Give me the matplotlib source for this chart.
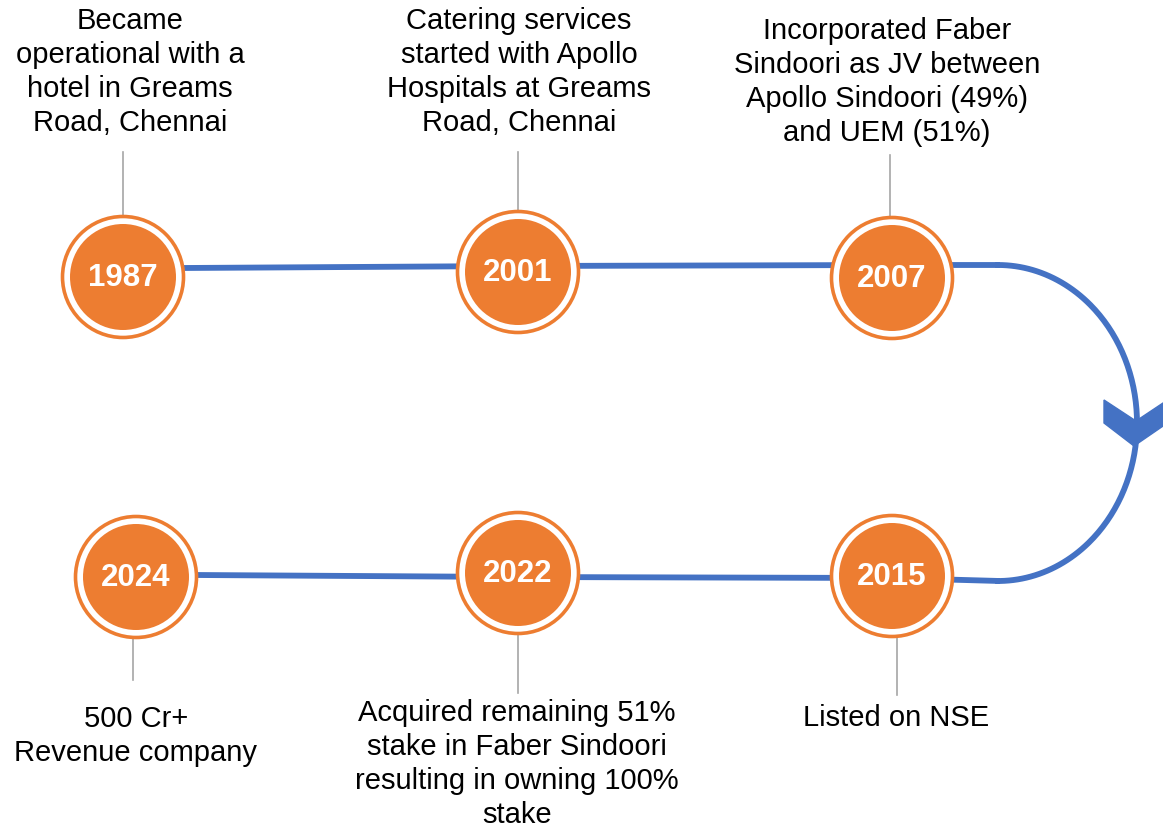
import matplotlib
matplotlib.use("Agg")
import matplotlib.pyplot as plt
from matplotlib.patches import Circle, Polygon
import numpy as np

# ---- data ----
years = ["1987", "2001", "2007", "2015", "2022", "2024"]
events = [
    "Became\noperational with a\nhotel in Greams\nRoad, Chennai",
    "Catering services\nstarted with Apollo\nHospitals at Greams\nRoad, Chennai",
    "Incorporated Faber\nSindoori as JV between\nApollo Sindoori (49%)\nand UEM (51%)",
    "Listed on NSE",
    "Acquired remaining 51%\nstake in Faber Sindoori\nresulting in owning 100%\nstake",
    "500 Cr+\nRevenue company",
]

# ---- layout (pixel space) ----
W, H = 1163, 831
centers = [(123, 277), (518, 272), (892, 278), (892, 576), (518, 573), (136, 577)]
text_pos = [(130, 72), (519, 72), (887, 82), (896, 718), (517, 764), (136, 736)]
conn = [((123, 152), (123, 217)), ((518, 152), (518, 212)), ((890, 155), (890, 216)),
        ((897, 637), (897, 695)), ((518, 635), (518, 693)), ((133, 638), (133, 680))]

ORANGE = "#ED7D31"
BLUE = "#4472C4"
GRAY = "#A6A6A6"

fig = plt.figure(figsize=(W / 100, H / 100), dpi=100)
ax = fig.add_axes([0, 0, 1, 1])
ax.set_xlim(0, W)
ax.set_ylim(H, 0)
ax.set_aspect("equal")
ax.axis("off")

# blue path
lw = 4.2
ax.plot([183, 518, 892, 1000], [268, 266, 265, 265], color=BLUE, lw=lw, solid_capstyle="butt", zorder=1)
ax.plot([196, 518, 892, 1000], [575, 577, 578, 581], color=BLUE, lw=lw, solid_capstyle="butt", zorder=1)
t = np.linspace(-np.pi / 2, np.pi / 2, 200)
cx, cy, rx, ry = 998, 423, 139, 158
ax.plot(cx + rx * np.cos(t), cy + ry * np.sin(t), color=BLUE, lw=lw, zorder=1)
chev = Polygon([(1104, 400), (1104, 423), (1134, 446), (1166, 424), (1166, 401), (1136, 421)],
               closed=True, color=BLUE, zorder=2)
ax.add_patch(chev)

# connectors
for (x1, y1), (x2, y2) in conn:
    ax.plot([x1, x2], [y1, y2], color=GRAY, lw=1.2, zorder=1)

# circles
for (x, y), yr in zip(centers, years):
    ax.add_patch(Circle((x, y), 60.5, facecolor="white", edgecolor=ORANGE, lw=2.6, zorder=3))
    ax.add_patch(Circle((x, y), 53, facecolor=ORANGE, edgecolor="none", zorder=4))
    ax.text(x, y + 1, yr, color="white", fontsize=22.5, fontweight="bold",
            family="Liberation Sans", ha="center", va="center", zorder=5)

# event texts
for (x, y), ev in zip(text_pos, events):
    ax.text(x, y, ev, color="black", fontsize=21, family="Liberation Sans",
            ha="center", va="center", linespacing=1.28, zorder=5)

fig.savefig("out.png", dpi=100, facecolor="white")
